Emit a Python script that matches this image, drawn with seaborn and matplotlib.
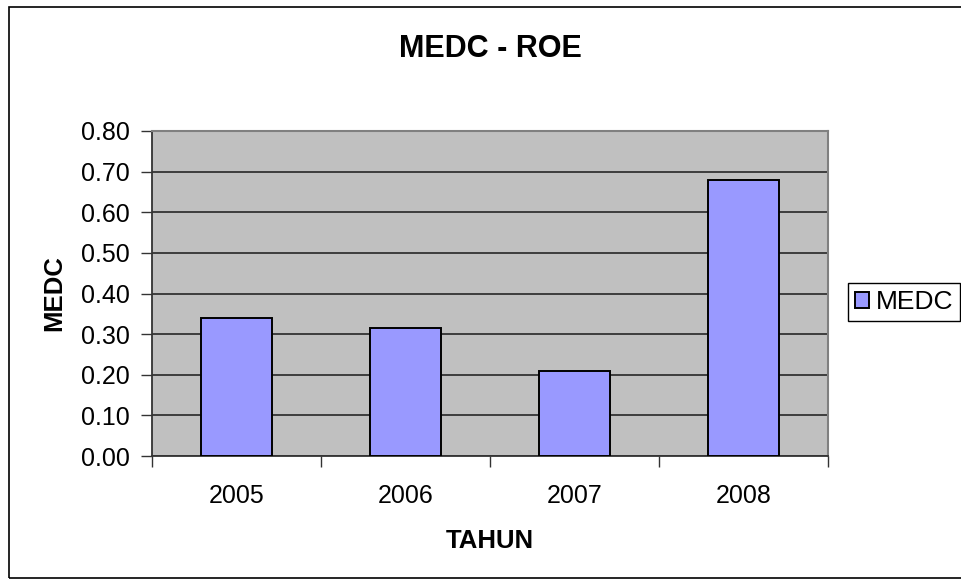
import matplotlib
matplotlib.use('Agg')
import matplotlib.pyplot as plt
from matplotlib.patches import Rectangle
import seaborn as sns
import pandas as pd

# data
tahun = ['2005', '2006', '2007', '2008']
roe = [0.34, 0.315, 0.21, 0.68]
seri = ['MEDC'] * len(tahun)
yticks = [0.0, 0.1, 0.2, 0.3, 0.4, 0.5, 0.6, 0.7, 0.8]

df = pd.DataFrame({'Tahun': tahun, 'ROE': roe, 'Seri': seri})

sns.set_theme(style='white')
plt.rcParams['font.family'] = ['Liberation Sans', 'DejaVu Sans']
plt.rcParams['text.color'] = 'black'
plt.rcParams['xtick.color'] = 'black'
plt.rcParams['ytick.color'] = 'black'
plt.rcParams['axes.labelcolor'] = 'black'

fig = plt.figure(figsize=(9.61, 5.83), dpi=100)
ax = fig.add_axes([152 / 961, 1 - 456 / 583, 676 / 961, 325 / 583])
ax.set_facecolor('#C0C0C0')

sns.barplot(data=df, x='Tahun', y='ROE', hue='Seri', palette=['#9999FF'],
            width=0.42, edgecolor='black', linewidth=1.4, saturation=1,
            ax=ax, zorder=3)

ax.set_ylim(0, 0.8)
ax.set_xlim(-0.5, 3.5)
ax.set_yticks(yticks)
ax.set_yticklabels([f'{v:.2f}' for v in yticks], fontsize=18)
ax.yaxis.grid(True, color='#333333', linewidth=1.3, zorder=1)
ax.set_axisbelow(True)

# excel style: ticks between categories, labels centered
ax.set_xticks([-0.5, 0.5, 1.5, 2.5, 3.5])
ax.set_xticklabels([])
ax.set_xticks(range(len(tahun)), minor=True)
ax.set_xticklabels(tahun, minor=True, fontsize=18)
ax.tick_params(axis='x', which='minor', length=0, pad=20)
ax.tick_params(axis='x', which='major', length=8, width=1, color='#333333', bottom=True)
ax.tick_params(axis='y', length=8, width=1, color='#333333', left=True, pad=8)

for s in ['top', 'right']:
    ax.spines[s].set_color('#808080')
    ax.spines[s].set_linewidth(1.5)
for s in ['left', 'bottom']:
    ax.spines[s].set_color('#333333')
    ax.spines[s].set_linewidth(1.3)

ax.set_xlabel('TAHUN', fontsize=18.5, fontweight='bold')
ax.set_ylabel('MEDC', fontsize=18.5, fontweight='bold')
ax.xaxis.set_label_coords(0.5, (456 - 529) / 325)
ax.yaxis.set_label_coords((66 - 152) / 676, 0.5)

fig.text(490 / 961, 1 - 49 / 583, 'MEDC - ROE', ha='center', va='center',
         fontsize=22, fontweight='bold')

leg = ax.legend(loc='center left', bbox_to_anchor=(848 / 961, 1 - 302 / 583),
                bbox_transform=fig.transFigure, borderaxespad=0, fontsize=19,
                fancybox=False, edgecolor='black', framealpha=1,
                handlelength=0.55, handleheight=0.55, handletextpad=0.25,
                borderpad=0.25)
leg.get_frame().set_linewidth(1)

# outer chart border
fig.patches.append(Rectangle((9 / 961, 5 / 583), 1.0, 1 - 12 / 583,
                             transform=fig.transFigure, fill=False,
                             edgecolor='black', linewidth=1.2, zorder=0))

fig.savefig('out.png', dpi=100)
